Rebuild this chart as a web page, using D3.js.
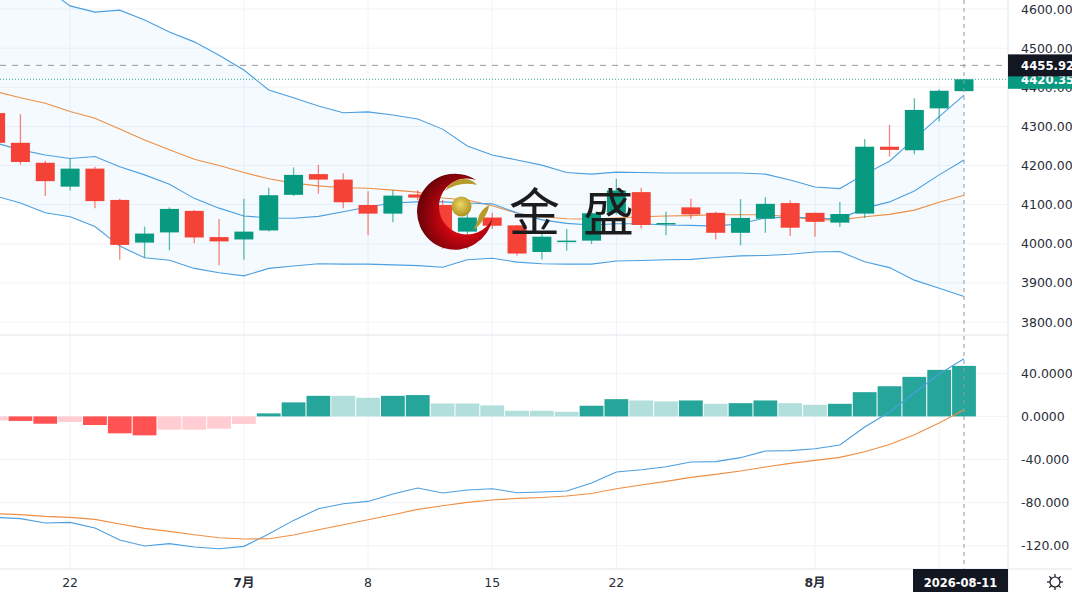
<!DOCTYPE html>
<html>
<head>
<meta charset="utf-8">
<title>K线图</title>
<script src="https://cdn.jsdelivr.net/npm/d3@7"></script>
<style>
  html, body { margin: 0; padding: 0; background: #fff; overflow: hidden; }
  svg { display: block; font-family: "DejaVu Sans", "Noto Sans CJK SC", sans-serif; }
  .axis text { font-size: 12.5px; font-family: "DejaVu Sans"; fill: #2a2e39; }
  .axis path, .axis line { display: none; }
</style>
</head>
<body>
<svg id="chart" width="1072" height="592"></svg>
<script>
// candles
const opens  = [4334,4258,4207,4146,4192,4112,4003,4029,4084,4017,4011,4034,4125,4178,4164,4099,4077,4126,4099,4031,4067,4047,3979,4006,4008,4079,4132,4050,4093,4079,4028,4064,4104,4079,4054,4077,4248,4239,4346,4390]
const closes = [4258,4209,4160,4192,4109,3997,4026,4089,4016,4006,4031,4124,4176,4164,4106,4077,4123,4118,4035,4067,4046,3975,4018,4008,4078,4136,4048,4053,4075,4028,4066,4102,4041,4056,4076,4248,4240,4342,4391,4420.35]
const highs  = [4340,4331,4212,4218,4197,4115,4044,4093,4086,4063,4115,4143,4195,4202,4180,4134,4137,4137,4112,4099,4079,4048,4030,4038,4099,4166,4143,4082,4115,4082,4114,4119,4111,4080,4107,4268,4304,4372,4395,4421]
const lows   = [4255,4202,4122,4136,4091,3959,3964,3983,4001,3945,3959,4031,4122,4128,4091,4022,4055,4112,3987,3987,4038,3970,3960,3982,3999,4074,4039,4022,4063,4011,3996,4028,4020,4018,4043,4066,4223,4229,4313,4390]

// bollinger bands and moving average
const bandUpper = [4776,4712,4654,4608,4592,4597,4572,4541,4516,4482,4444,4393,4373,4352,4335,4337,4329,4319,4293,4250,4227,4214,4201,4182,4178,4183,4182,4181,4181,4181,4181,4178,4163,4145,4141,4178,4211,4268,4325,4380]
const bandMiddle = [4258,4240,4227,4218,4223,4197,4176,4152,4116,4091,4071,4066,4065,4070,4082,4094,4104,4107,4107,4104,4102,4079,4061,4052,4048,4051,4051,4048,4047,4045,4051,4066,4068,4066,4063,4091,4107,4135,4176,4214]
const bandLower = [4122,4104,4079,4069,4044,3994,3964,3958,3937,3926,3918,3937,3943,3949,3948,3948,3946,3944,3940,3959,3963,3953,3949,3948,3948,3956,3957,3959,3960,3965,3969,3970,3973,3979,3980,3954,3939,3907,3886,3865]
const maLine = [4389,4373,4359,4338,4321,4293,4265,4240,4216,4200,4182,4166,4155,4148,4143,4142,4137,4132,4117,4112,4097,4078,4069,4064,4063,4066,4069,4071,4072,4074,4074,4074,4069,4061,4061,4069,4075,4086,4106,4124]

// macd
const macdHist = [-3.8,-4.2,-6.8,-5.2,-8,-15.7,-17.6,-12.3,-12.3,-11.4,-7.1,2.8,13,19.1,19.1,17.3,19.1,19.8,12,12,10.2,5.2,5.2,4.3,9.9,16,14.8,13.9,14.8,11.7,12.3,14.8,12.3,10.8,11.7,22.5,28,36.7,43.2,46.9]
const macdDif = [-93.7,-94.9,-98.9,-98.4,-103.6,-114.7,-120.3,-118.1,-121.2,-122.8,-120.6,-109.1,-96.5,-85.7,-81,-78.9,-72,-66.5,-71.1,-68.3,-67.1,-70.8,-70.2,-69.2,-61.8,-51.6,-49.5,-46.7,-42.3,-42,-38.3,-32.1,-31.8,-30,-26.5,-9.8,4.1,21.7,39.4,53.5]
const macdDea = [-90.3,-91.2,-92.8,-93.7,-95.6,-99.9,-103.9,-106.7,-109.8,-112.6,-113.8,-113.5,-110.1,-105.2,-100.5,-95.9,-91.2,-86.3,-82.9,-79.8,-77.6,-76.1,-75.2,-73.9,-71.5,-67.1,-63.7,-60.3,-56.6,-53.8,-50.7,-47,-43.6,-40.8,-38,-32.8,-26,-17,-6.1,6.2]

// axes
const priceTicks = [3800,3900,4000,4100,4200,4300,4400,4500,4600]
const macdTicks = [-120,-80,-40,0,40]
const gridBars = [3,10,15,20,25,33,38]
const dateBars = [3,10,15,20,25,33]
const dateLabels = ['22','7月','8','15','22','8月']
const crossPrice = 4455.92
const lastPrice = 4420.35
const crossBar = 39
const crossDate = '2026-08-11'

const W = 1072, H = 592, plotR = 1008, priceB = 335, macdB = 569
const UP = '#089981', DOWN = '#f44336', BLUE = '#4c9fe0', ORANGE = '#ee8f45', GRID = '#f0f3fa', BORDER = '#e0e3eb'

const svg = d3.select('#chart')
const defs = svg.append('defs')
defs.append('clipPath').attr('id', 'plot-clip').append('rect').attr('width', plotR).attr('height', priceB)
defs.append('clipPath').attr('id', 'macd-clip').append('rect').attr('y', priceB).attr('width', plotR).attr('height', macdB - priceB)

const x = d3.scaleLinear().domain([0, 39]).range([-4.4, 964])
const y = d3.scaleLinear().domain([3800, 4600]).range([322, 9])
const ym = d3.scaleLinear().domain([-120, 40]).range([545.7, 373.3])
const idx = d3.range(opens.length)

// grid
const grid = svg.append('g').attr('stroke', GRID).attr('stroke-width', 1)
grid.selectAll('.gx').data(gridBars).join('line')
  .attr('x1', d => x(d)).attr('x2', d => x(d)).attr('y1', 0).attr('y2', macdB)
grid.selectAll('.gy').data(priceTicks).join('line')
  .attr('x1', 0).attr('x2', plotR).attr('y1', d => y(d)).attr('y2', d => y(d))
grid.selectAll('.gm').data(macdTicks).join('line')
  .attr('x1', 0).attr('x2', plotR).attr('y1', d => ym(d)).attr('y2', d => ym(d))

// price pane
const price = svg.append('g').attr('clip-path', 'url(#plot-clip)')
const bandArea = d3.area().x(i => x(i)).y0(i => y(bandLower[i])).y1(i => y(bandUpper[i]))
price.append('path').attr('d', bandArea(idx)).attr('fill', '#2196f3').attr('fill-opacity', 0.05)

const priceLine = values => d3.line().x((d, i) => x(i)).y(d => y(d))(values)
price.append('path').attr('d', priceLine(maLine)).attr('fill', 'none').attr('stroke', ORANGE).attr('stroke-width', 1.1)
;[bandUpper, bandMiddle, bandLower].forEach(b => {
  price.append('path').attr('d', priceLine(b)).attr('fill', 'none').attr('stroke', BLUE).attr('stroke-width', 1.1)
})

const isUp = i => closes[i] >= opens[i]
price.selectAll('.wick').data(idx).join('line')
  .attr('x1', i => x(i)).attr('x2', i => x(i))
  .attr('y1', i => y(highs[i])).attr('y2', i => y(lows[i]))
  .attr('stroke', i => isUp(i) ? UP : DOWN).attr('stroke-opacity', 0.65).attr('stroke-width', 1.3)
price.selectAll('.body').data(idx).join('rect')
  .attr('x', i => x(i) - 9.5).attr('width', 19)
  .attr('y', i => y(Math.max(opens[i], closes[i])))
  .attr('height', i => Math.max(1.5, Math.abs(y(opens[i]) - y(closes[i]))))
  .attr('fill', i => isUp(i) ? UP : DOWN)

// macd pane
const macd = svg.append('g').attr('clip-path', 'url(#macd-clip)')
const histColor = (v, i) => {
  const strong = i > 0 && (v >= 0 ? v > macdHist[i - 1] : v < macdHist[i - 1])
  if (v >= 0) return strong ? '#26a69a' : '#b2dfdb'
  return strong ? '#ff5252' : '#ffcdd2'
}
macd.selectAll('.hist').data(macdHist).join('rect')
  .attr('x', (d, i) => x(i) - 11.9).attr('width', 23.8)
  .attr('y', d => Math.min(ym(d), ym(0)))
  .attr('height', d => Math.abs(ym(d) - ym(0)))
  .attr('fill', histColor)
const macdLine = values => d3.line().x((d, i) => x(i)).y(d => ym(d))(values)
macd.append('path').attr('d', macdLine(macdDif)).attr('fill', 'none').attr('stroke', BLUE).attr('stroke-width', 1.1)
macd.append('path').attr('d', macdLine(macdDea)).attr('fill', 'none').attr('stroke', ORANGE).attr('stroke-width', 1.1)

// crosshair and last price lines
svg.append('line').attr('x1', 0).attr('x2', plotR).attr('y1', y(lastPrice)).attr('y2', y(lastPrice))
  .attr('stroke', UP).attr('stroke-opacity', 0.8).attr('stroke-dasharray', '1 2')
svg.append('line').attr('x1', 0).attr('x2', plotR).attr('y1', y(crossPrice)).attr('y2', y(crossPrice))
  .attr('stroke', '#9598a1').attr('stroke-dasharray', '6 6')
svg.append('line').attr('x1', x(crossBar)).attr('x2', x(crossBar)).attr('y1', 0).attr('y2', macdB)
  .attr('stroke', '#9598a1').attr('stroke-dasharray', '4 4')

// watermark
const logoGrad = defs.append('radialGradient').attr('id', 'crescent').attr('cx', '62%').attr('cy', '55%').attr('r', '60%')
logoGrad.append('stop').attr('offset', '35%').attr('stop-color', '#e00613')
logoGrad.append('stop').attr('offset', '100%').attr('stop-color', '#6e0208')
const ballGrad = defs.append('radialGradient').attr('id', 'ball').attr('cx', '45%').attr('cy', '40%').attr('r', '65%')
ballGrad.append('stop').attr('offset', '0%').attr('stop-color', '#ecd766')
ballGrad.append('stop').attr('offset', '100%').attr('stop-color', '#a98a18')

const logo = svg.append('g')
logo.append('path').attr('d', 'M476,180 A38,38 0 1 0 492.5,218 A28,28 0 1 1 476,180 Z').attr('fill', 'url(#crescent)')
logo.append('circle').attr('cx', 461.5).attr('cy', 206.5).attr('r', 10).attr('fill', 'url(#ball)')
logo.append('path').attr('d', 'M445,191 Q452,178 466,179 Q473,180 477,185 Q459,181 445,191 Z').attr('fill', '#b89a2a')
logo.append('path').attr('d', 'M473,230 Q480,226 484,218 Q489,210 489,205 Q480,210 478,219 Q476,226 473,230 Z').attr('fill', '#b89a2a')
svg.append('text').attr('x', 509).attr('y', 231).attr('font-size', 51)
  .attr('font-family', '"Noto Sans CJK SC"').attr('fill', '#1c1c1c').text('金')
svg.append('text').attr('x', 583).attr('y', 231).attr('font-size', 51)
  .attr('font-family', '"Noto Sans CJK SC"').attr('fill', '#1c1c1c').text('盛')

// frame
svg.append('line').attr('x1', 0).attr('x2', plotR).attr('y1', priceB).attr('y2', priceB).attr('stroke', BORDER)
svg.append('line').attr('x1', 0).attr('x2', W).attr('y1', macdB).attr('y2', macdB).attr('stroke', BORDER)
svg.append('line').attr('x1', plotR).attr('x2', plotR).attr('y1', 0).attr('y2', H).attr('stroke', BORDER)

// axes
const priceAxis = d3.axisRight(y).tickValues(priceTicks).tickFormat(d3.format('.2f')).tickSize(0).tickPadding(13)
svg.append('g').attr('class', 'axis').attr('transform', `translate(${plotR},0)`).call(priceAxis)
const macdAxis = d3.axisRight(ym).tickValues(macdTicks).tickSize(0).tickPadding(13)
  .tickFormat(d => d3.format('.4f')(d).replace('−', '-').slice(0, 7))
svg.append('g').attr('class', 'axis').attr('transform', `translate(${plotR},0)`).call(macdAxis)

svg.append('g').selectAll('text').data(dateBars).join('text')
  .attr('x', d => x(d)).attr('y', 587).attr('text-anchor', 'middle')
  .attr('font-size', 12.5).attr('fill', '#2a2e39')
  .attr('font-weight', (d, i) => dateLabels[i].includes('月') ? 700 : 400)
  .text((d, i) => dateLabels[i])

// price tags
svg.append('rect').attr('x', plotR).attr('y', y(lastPrice) - 9.5).attr('width', W - plotR).attr('height', 19).attr('fill', UP)
svg.append('text').attr('x', plotR + 13).attr('y', y(lastPrice) + 5).attr('font-size', 11.7).attr('font-weight', 700)
  .attr('fill', '#fff').text(d3.format('.2f')(lastPrice))
svg.append('rect').attr('x', plotR).attr('y', y(crossPrice) - 11).attr('width', W - plotR).attr('height', 22).attr('fill', '#131722')
svg.append('text').attr('x', plotR + 13).attr('y', y(crossPrice) + 5).attr('font-size', 11.7).attr('font-weight', 700)
  .attr('fill', '#fff').text(d3.format('.2f')(crossPrice))

// date tag
svg.append('rect').attr('x', 913).attr('y', macdB).attr('width', plotR - 913).attr('height', H - macdB).attr('fill', '#131722')
svg.append('text').attr('x', 960.5).attr('y', 587).attr('text-anchor', 'middle').attr('font-size', 11.5)
  .attr('font-weight', 700).attr('fill', '#fff').text(crossDate)

// theme button
const sun = svg.append('g').attr('transform', 'translate(1055,582)').attr('stroke', '#131722').attr('fill', 'none').attr('stroke-width', 1.2)
sun.append('circle').attr('r', 5)
d3.range(8).forEach(k => {
  const a = k * Math.PI / 4
  sun.append('line').attr('x1', 5 * Math.cos(a)).attr('y1', 5 * Math.sin(a)).attr('x2', 8 * Math.cos(a)).attr('y2', 8 * Math.sin(a))
})
</script>
</body>
</html>
